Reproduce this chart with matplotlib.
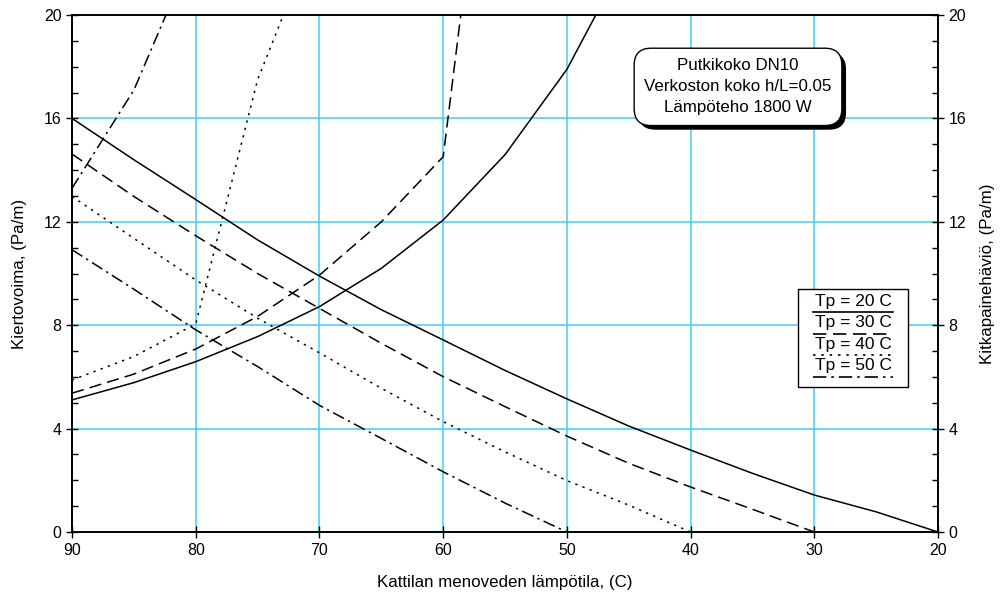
import matplotlib
matplotlib.use('Agg')
import matplotlib.pyplot as plt
import matplotlib.patheffects as pe
from matplotlib.ticker import MultipleLocator

plt.rcParams['font.family'] = ['Liberation Sans', 'DejaVu Sans']

# Kattilan menoveden lämpötila (C)
temps = [90, 85, 80, 75, 70, 65, 60, 55, 50, 45, 40, 35, 30, 25, 20]

# Kiertovoima (Pa/m), eri paluulämpötiloilla Tp
drive_20 = [16.0, 14.4, 12.86, 11.3, 9.9, 8.6, 7.43, 6.25, 5.15, 4.1, 3.17, 2.27, 1.43, 0.78, 0.0]
drive_30 = [14.62, 12.98, 11.46, 10.0, 8.65, 7.3, 6.01, 4.85, 3.71, 2.66, 1.74, 0.88, 0.0]
drive_40 = [12.98, 11.36, 9.75, 8.27, 6.93, 5.56, 4.27, 3.1, 1.99, 1.04, 0.0]
drive_50 = [10.92, 9.39, 7.82, 6.4, 4.9, 3.62, 2.33, 1.12, 0.0]

# Kitkapainehäviö (Pa/m)
fric_20 = [5.11, 5.78, 6.59, 7.56, 8.72, 10.2, 12.07, 14.6, 17.9, 22.4]
fric_30 = [5.37, 6.11, 7.08, 8.34, 9.94, 12.0, 14.52, 33.8]
fric_40 = [5.88, 6.79, 8.05, 17.5, 23.5]
fric_50 = [13.3, 17.1, 22.7]

labels = ['Tp = 20 C', 'Tp = 30 C', 'Tp = 40 C', 'Tp = 50 C']
dashes = [None, (8, 4), (1.5, 3.5), (8, 3, 1.5, 3)]

fig = plt.figure(figsize=(10.02, 6.03), dpi=100)
ax = fig.add_axes([0.0719, 0.1177, 0.8643, 0.8574])
ax2 = ax.twinx()

drives = [drive_20, drive_30, drive_40, drive_50]
frics = [fric_20, fric_30, fric_40, fric_50]
for d, f, ds in zip(drives, frics, dashes):
    l1, = ax.plot(temps[:len(d)], d, color='black', lw=1.1)
    l2, = ax2.plot(temps[:len(f)], f, color='black', lw=1.1)
    if ds:
        l1.set_dashes(ds)
        l2.set_dashes(ds)

for a in (ax, ax2):
    a.set_xlim(90, 20)
    a.set_ylim(0, 20)
    a.yaxis.set_major_locator(MultipleLocator(4))
    a.yaxis.set_minor_locator(MultipleLocator(1))
    a.tick_params(axis='y', which='major', direction='inout', length=8, width=1, labelsize=11.5)
    a.tick_params(axis='y', which='minor', direction='in', length=4, width=1)
    for s in a.spines.values():
        s.set_linewidth(1.2)

ax.set_xticks(range(90, 19, -10))
ax.tick_params(axis='x', direction='inout', length=8, width=1, labelsize=11.5, pad=4)
ax.grid(True, color='#3fd0f0', lw=1.1)
ax.set_axisbelow(True)

ax.set_xlabel('Kattilan menoveden lämpötila, (C)', fontsize=12.2, labelpad=12)
ax.set_ylabel('Kiertovoima, (Pa/m)', fontsize=12.2, labelpad=12)
ax2.set_ylabel('Kitkapainehäviö, (Pa/m)', fontsize=12.2, labelpad=10)

# Info box
t = ax.text(0.769, 0.861, 'Putkikoko DN10\nVerkoston koko h/L=0.05\nLämpöteho 1800 W',
            transform=ax.transAxes, ha='center', va='center', fontsize=12.2,
            linespacing=1.5, zorder=10,
            bbox=dict(boxstyle='round,pad=0.6,rounding_size=1.0', fc='white', ec='black', lw=1))
t.get_bbox_patch().set_path_effects([pe.SimplePatchShadow(offset=(3, -3), shadow_rgbFace='black', alpha=1),
                                     pe.Normal()])

# Legend, Excel style: text with line sample beneath
ax2.add_patch(plt.Rectangle((0.838, 0.2805), 0.127, 0.19, transform=ax2.transAxes,
                            fc='white', ec='black', lw=1, zorder=9))
for i, (lab, ds) in enumerate(zip(labels, dashes)):
    ty = 0.446 - i * 0.0415
    ax2.text(0.902, ty, lab, transform=ax2.transAxes, ha='center', va='center', fontsize=12.5, zorder=10)
    ln, = ax2.plot([0.856, 0.948], [ty - 0.021, ty - 0.021], transform=ax2.transAxes,
                   color='black', lw=1.2, zorder=10, clip_on=False)
    if ds:
        ln.set_dashes(ds)

fig.savefig('out.png', dpi=100)
